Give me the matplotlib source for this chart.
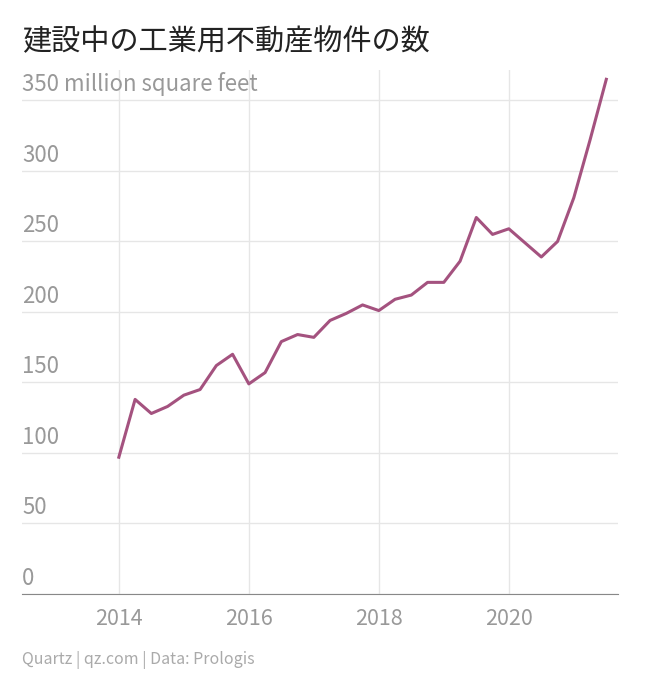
import matplotlib
matplotlib.use("Agg")
import matplotlib.pyplot as plt
import matplotlib.transforms as mtransforms
import numpy as np

title = "建設中の工業用不動産物件の数"
source = "Quartz | qz.com | Data: Prologis"
years = [2014 + 0.25 * i for i in range(31)]
values = [97, 138, 128, 133, 141, 145, 162, 170, 149, 157, 179, 184, 182, 194, 199, 205,
          201, 209, 212, 221, 221, 236, 267, 255, 259, 249, 239, 250, 281, 322, 365]
yticks = [0, 50, 100, 150, 200, 250, 300, 350]
ylabels = ["0", "50", "100", "150", "200", "250", "300", "350 million square feet"]
xticks = [2014, 2016, 2018, 2020]

plt.rcParams["font.family"] = ["Noto Sans CJK JP", "DejaVu Sans"]
fig = plt.figure(figsize=(6.45, 6.95), dpi=100)
ax = fig.add_axes([22/645, 1-594/695, 596/645, 524/695])
ax.plot(years, values, color="#a4527f", lw=2.2, solid_joinstyle="round")
ax.set_xlim(2012.51, 2021.68)
ax.set_ylim(0, 371.6)
ax.set_yticks(yticks)
ax.set_yticklabels([])
ax.tick_params(axis="y", length=0)
ax.set_xticks(xticks)
ax.set_xticklabels([str(x) for x in xticks], color="#999999", fontsize=15.5)
ax.tick_params(axis="x", length=0, pad=10)
ax.grid(True, color="#e6e6e6", lw=1)
for s in ["top", "right", "left"]:
    ax.spines[s].set_visible(False)
ax.spines["bottom"].set_color("#888888")
trans = mtransforms.blended_transform_factory(ax.transAxes, ax.transData)
for v, lab in zip(yticks, ylabels):
    ax.text(0, v + 3, lab, transform=trans, ha="left", va="bottom", color="#999999", fontsize=16)
fig.text(22/645, 1-42/695, title, fontsize=21, va="center", ha="left", color="#222222")
fig.text(22/645, 1-660/695, source, fontsize=11.5, va="center", ha="left", color="#aaaaaa")
fig.savefig("out.png", dpi=100)
